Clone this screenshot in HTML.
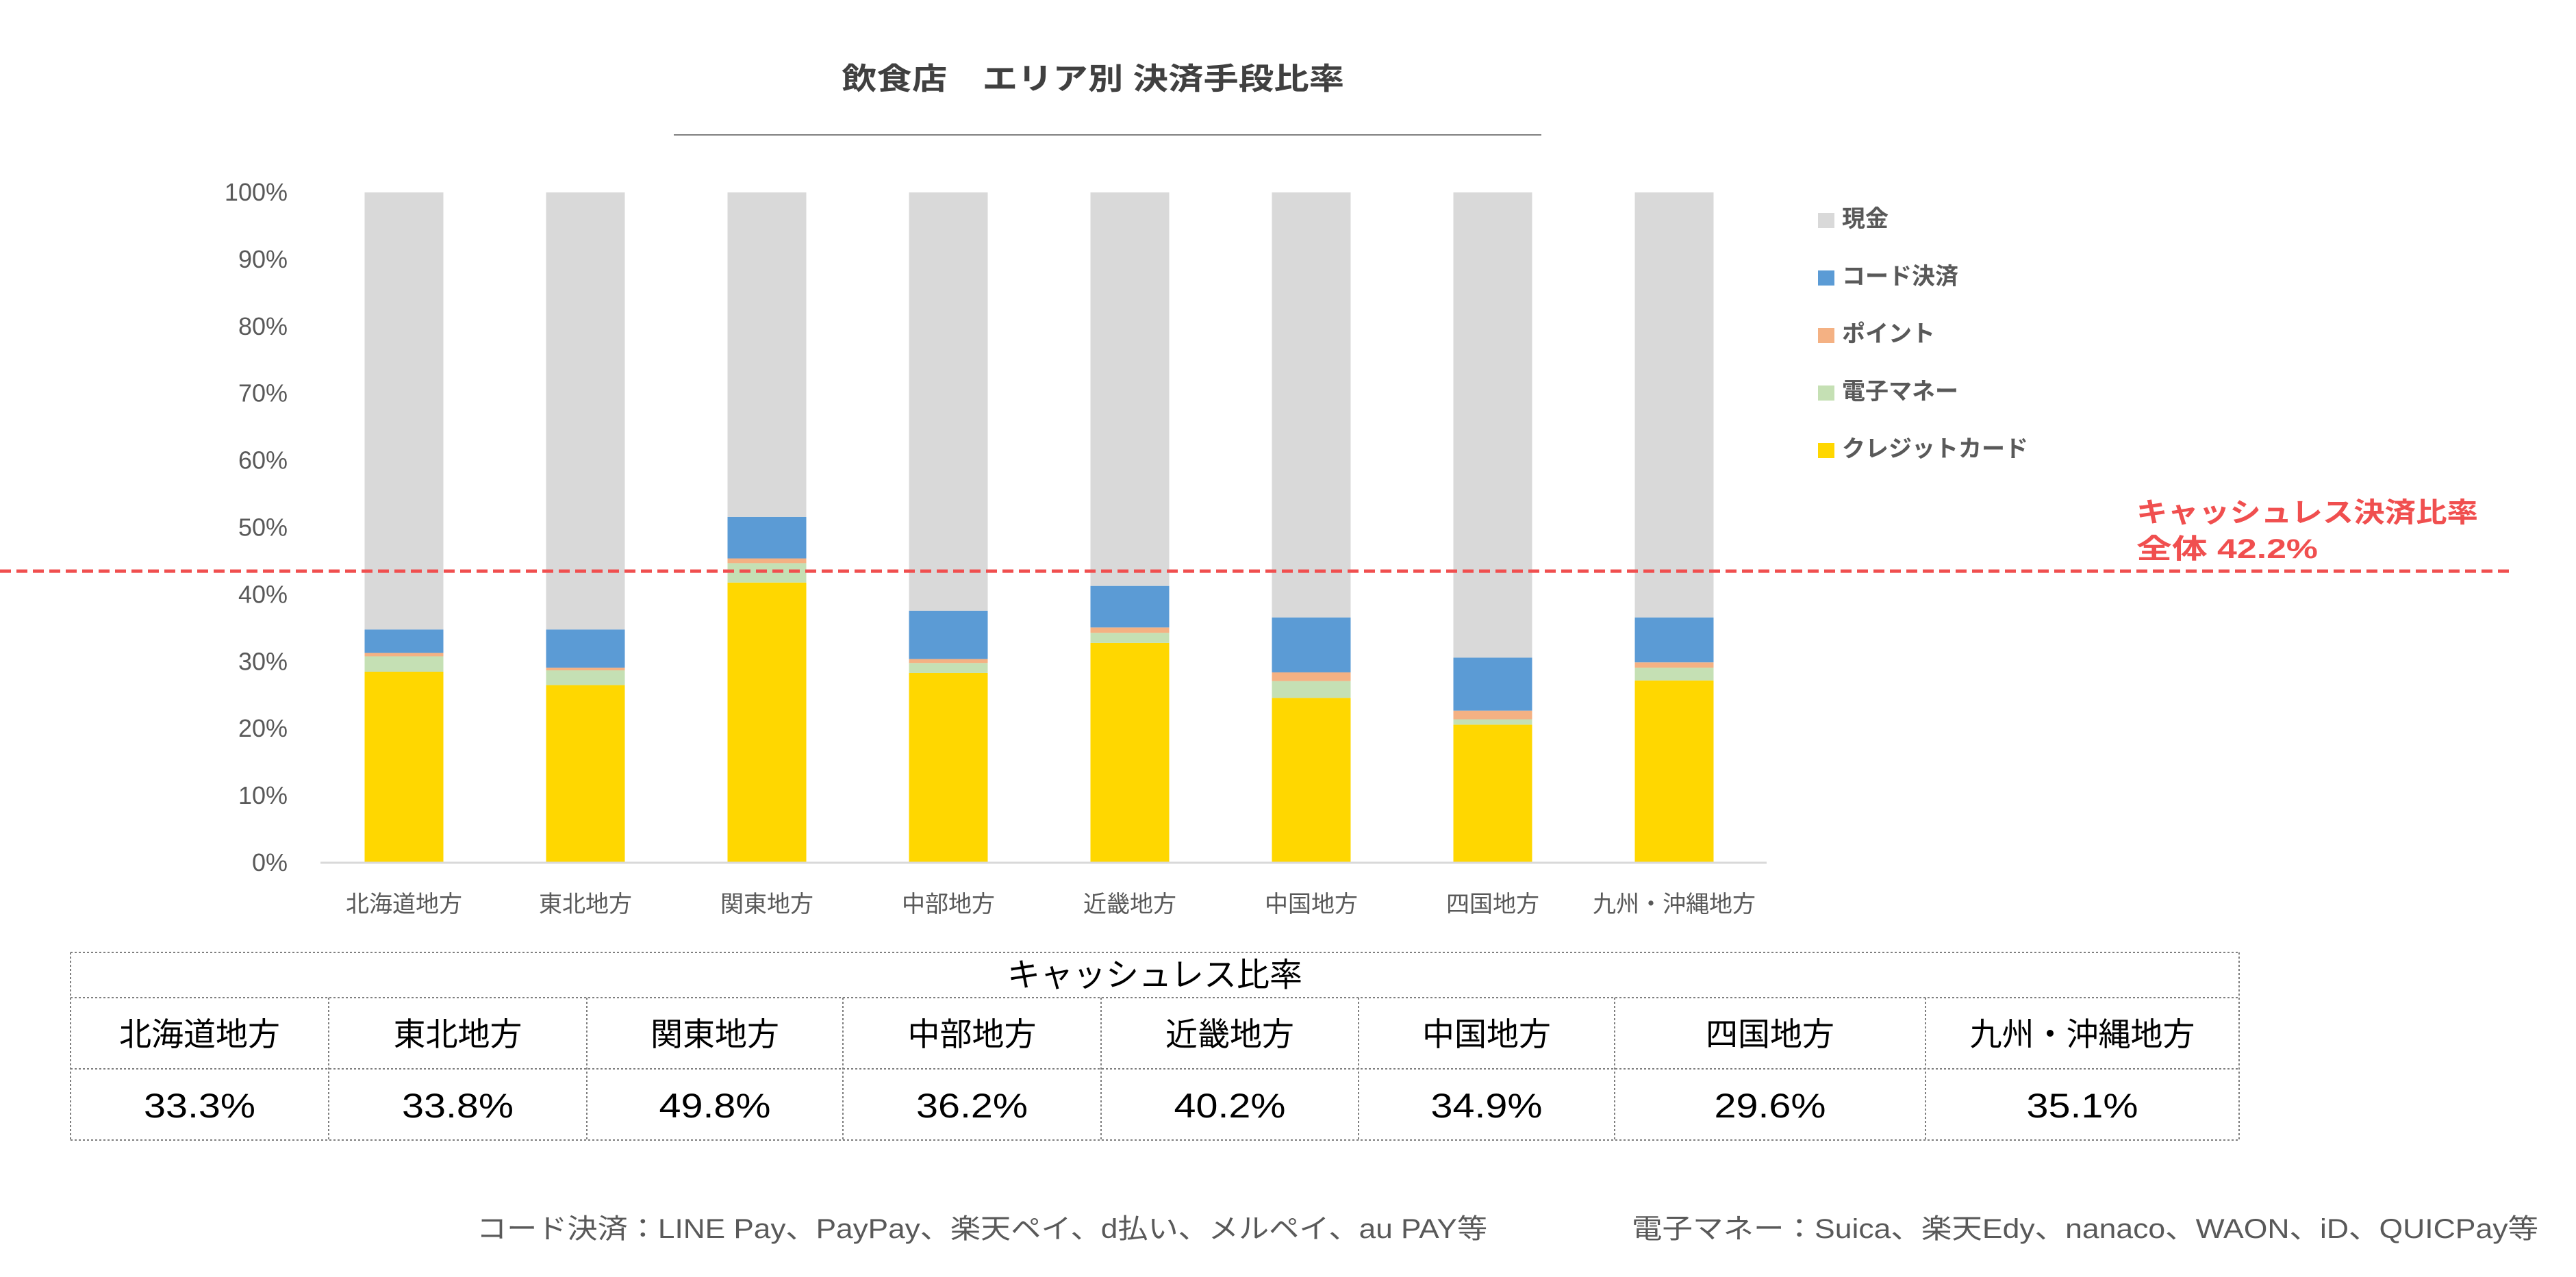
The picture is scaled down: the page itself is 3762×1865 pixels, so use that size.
<!DOCTYPE html>
<html><head><meta charset="utf-8">
<style>
html,body{margin:0;padding:0;background:#fff;}
body{width:3762px;height:1860px;overflow:hidden;font-family:"Liberation Sans","Noto Sans CJK JP",sans-serif;}
svg text{font-family:"Liberation Sans","Noto Sans CJK JP",sans-serif;}
</style></head>
<body>
<svg id="chart" width="3762" height="1860" viewBox="0 0 3762 1860" xmlns="http://www.w3.org/2000/svg">
<text x="1229" y="130" font-size="44" font-weight="bold" fill="#404040" textLength="734" lengthAdjust="spacingAndGlyphs">飲食店　エリア別 決済手段比率</text>
<line x1="984" y1="197" x2="2251" y2="197" stroke="#808080" stroke-width="2"/>
<g id="plot"></g>
<g id="legend"></g>
<line id="avgline" x1="0" x2="3668" stroke="#f04f4f" stroke-width="5" stroke-dasharray="16,8"/>
<text x="3120" y="762" font-size="40" font-weight="bold" fill="#f04f4f" textLength="499" lengthAdjust="spacingAndGlyphs">キャッシュレス決済比率</text>
<text x="3120" y="815" font-size="40" font-weight="bold" fill="#f04f4f" textLength="265" lengthAdjust="spacingAndGlyphs">全体 42.2%</text>
<g id="table"></g>
<text x="696" y="1808" font-size="40" fill="#595959" textLength="1476" lengthAdjust="spacingAndGlyphs">コード決済：LINE Pay、PayPay、楽天ペイ、d払い、メルペイ、au PAY等</text>
<text x="2383" y="1808" font-size="40" fill="#595959" textLength="1324" lengthAdjust="spacingAndGlyphs">電子マネー：Suica、楽天Edy、nanaco、WAON、iD、QUICPay等</text>
</svg>
<script>
const categories = ["北海道地方","東北地方","関東地方","中部地方","近畿地方","中国地方","四国地方","九州・沖縄地方"];
const credit = [28.5,26.5,41.8,28.3,32.8,24.6,20.6,27.2];
const emoney = [2.3,2.2,2.9,1.5,1.5,2.5,0.8,1.9];
const points = [0.5,0.4,0.7,0.6,0.8,1.3,1.3,0.8];
const code = [3.5,5.7,6.2,7.2,6.2,8.2,7.9,6.7];
const yTicks = [0,10,20,30,40,50,60,70,80,90,100];
const cashlessRates = ["33.3%","33.8%","49.8%","36.2%","40.2%","34.9%","29.6%","35.1%"];
const overallAverage = 43.5;
const seriesNames = ["現金","コード決済","ポイント","電子マネー","クレジットカード"];

const NS="http://www.w3.org/2000/svg";
function mk(tag,attrs,parent){const e=document.createElementNS(NS,tag);for(const k in attrs)e.setAttribute(k,attrs[k]);parent.appendChild(e);return e;}
const y0=1260,y100=281,xStart=468,xEnd=2580;
const yScale=v=>y0-(y0-y100)*v/100;
const step=265, bw=115;
const xCenter=i=>590+i*step;
const plot=document.getElementById('plot');
yTicks.forEach(t=>{
  const tx=mk('text',{x:420,y:yScale(t)+12,'font-size':36,fill:'#595959','text-anchor':'end'},plot);
  
  
  tx.textContent=t+'%';
});
const colors={cash:'#d9d9d9',code:'#5b9bd5',points:'#f4b183',emoney:'#c5e0b4',credit:'#ffd700'};
categories.forEach((c,i)=>{
  const x=xCenter(i)-bw/2;
  let acc=0;
  const segs=[['credit',credit[i]],['emoney',emoney[i]],['points',points[i]],['code',code[i]]];
  const csum=credit[i]+emoney[i]+points[i]+code[i];
  segs.push(['cash',100-csum]);
  segs.forEach(([k,v])=>{
    const r=mk('rect',{x:x,y:yScale(acc+v),width:bw,height:yScale(acc)-yScale(acc+v),fill:colors[k]},plot);
    
    
    acc+=v;
  });
  const lb=mk('text',{x:xCenter(i),y:1332,'font-size':34,fill:'#595959','text-anchor':'middle'},plot);
  
  
  lb.textContent=c;
});
const ax=mk('line',{x1:xStart,x2:xEnd,y1:y0,y2:y0,stroke:'#d9d9d9','stroke-width':3},plot);


const avg=document.getElementById('avgline');
avg.setAttribute('y1',yScale(overallAverage));avg.setAttribute('y2',yScale(overallAverage));

const legend=document.getElementById('legend');
const lcol=[colors.cash,colors.code,colors.points,colors.emoney,colors.credit];
seriesNames.forEach((n,i)=>{
  const by=331+i*84;
  const sq=mk('rect',{x:2655,y:by-20,width:24,height:22,fill:lcol[i]},legend);
  
  
  const t=mk('text',{x:2690,y:by,'font-size':34,'font-weight':'bold',fill:'#595959'},legend);
  
  
  t.textContent=n;
});

const table=document.getElementById('table');
const tl=103,tr=3270,ty=[1391,1457,1561,1665];
const cols=[103,480,857,1231,1608,1984,2358,2812,3270];
const dash={stroke:'#7f7f7f','stroke-width':2,'stroke-dasharray':'3,3'};
ty.forEach(yy=>{const l=mk('line',Object.assign({x1:tl,x2:tr,y1:yy,y2:yy},dash),table);
  
  });
[tl,tr].forEach(xx=>{const l=mk('line',Object.assign({x1:xx,x2:xx,y1:ty[0],y2:ty[3]},dash),table);
  
  });
cols.slice(1,-1).forEach(xx=>{const l=mk('line',Object.assign({x1:xx,x2:xx,y1:ty[1],y2:ty[3]},dash),table);
  
  });
const hd=mk('text',{x:(tl+tr)/2,y:1440,'font-size':48,fill:'#000','text-anchor':'middle'},table);


hd.textContent='キャッシュレス比率';
categories.forEach((c,i)=>{
  const cx=(cols[i]+cols[i+1])/2;
  const a=mk('text',{x:cx,y:1527,'font-size':47,fill:'#000','text-anchor':'middle'},table);
  
  
  a.textContent=c;
  const b=mk('text',{x:cx,y:1632,'font-size':50,fill:'#000','text-anchor':'middle',textLength:163,lengthAdjust:'spacingAndGlyphs'},table);
  
  
  b.textContent=cashlessRates[i];
});
</script>
</body></html>
